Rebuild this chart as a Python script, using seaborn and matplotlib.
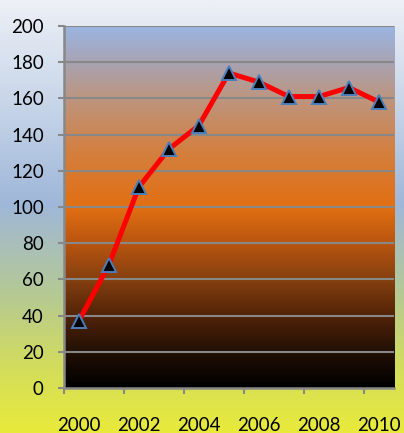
import numpy as np
import pandas as pd
import matplotlib
matplotlib.use("Agg")
import matplotlib.pyplot as plt
from matplotlib.colors import LinearSegmentedColormap
import seaborn as sns

years = [2000, 2001, 2002, 2003, 2004, 2005, 2006, 2007, 2008, 2009, 2010]
values = [37, 68, 111, 132, 145, 174, 169, 161, 161, 166, 158]
label_years = [2000, 2002, 2004, 2006, 2008, 2010]
y_ticks = [0, 20, 40, 60, 80, 100, 120, 140, 160, 180, 200]

sns.set_theme(style="white")
plt.rcParams["font.family"] = ["Lato", "DejaVu Sans"]

fig = plt.figure(figsize=(4.04, 4.33), dpi=100)

# figure background gradient (top -> bottom)
bg = fig.add_axes([0, 0, 1, 1], zorder=-10)
fig_cmap = LinearSegmentedColormap.from_list(
    "figbg", [(0.0, "#edf0f6"), (0.25, "#c6d4e8"), (0.47, "#9fb7d9"),
              (0.68, "#b5c994"), (0.85, "#d3dd5c"), (1.0, "#e8ea3a")])
bg.imshow(np.linspace(0, 1, 256).reshape(-1, 1), cmap=fig_cmap, aspect="auto",
          extent=[0, 1, 0, 1])
bg.set_axis_off()

ax = fig.add_axes([0.158, 0.104, 0.817, 0.836])
ax.patch.set_alpha(0)

# plot area gradient (top -> bottom)
ax_cmap = LinearSegmentedColormap.from_list(
    "axbg", [(0.0, "#9bb5e2"), (0.1, "#a8a3b2"), (0.2, "#bd957f"),
             (0.35, "#d47f3e"), (0.5, "#e26f12"), (0.6, "#b95510"),
             (0.7, "#85400f"), (0.8, "#522308"), (0.9, "#221005"),
             (1.0, "#000000")])
ax.imshow(np.linspace(0, 1, 256).reshape(-1, 1), cmap=ax_cmap, aspect="auto",
          extent=[0, 1, 0, 1], transform=ax.transAxes, zorder=0)

df = pd.DataFrame({"year": years, "value": values})
sns.lineplot(data=df, x="year", y="value", ax=ax, color="#ff0000", linewidth=3.6,
             marker="^", markersize=10, markerfacecolor="black",
             markeredgecolor="#4a7ebb", markeredgewidth=1.4, zorder=5)

ax.set_xlim(1999.5, 2010.5)
ax.set_ylim(0, 200)
ax.set_yticks(y_ticks)
ax.set_yticklabels([str(v) for v in y_ticks])
for v in y_ticks[1:]:
    ax.axhline(v, color="#888888", linewidth=1.5, zorder=2)

# tick marks at category boundaries, labels at category centres
ax.set_xticks([y - 0.5 for y in label_years])
ax.set_xticklabels([])
ax.set_xticks(label_years, minor=True)
ax.set_xticklabels([str(y) for y in label_years], minor=True)
ax.tick_params(axis="x", which="major", length=4.5, width=1.5, color="#888888",
               direction="out", bottom=True)
ax.tick_params(axis="x", which="minor", length=0, pad=21, labelsize=13.5,
               labelcolor="black")
ax.tick_params(axis="y", length=4.5, width=1.5, color="#888888", direction="out",
               left=True, pad=10, labelsize=13.5, labelcolor="black")

for side in ["top", "right"]:
    ax.spines[side].set_visible(False)
for side in ["left", "bottom"]:
    ax.spines[side].set_color("#888888")
    ax.spines[side].set_linewidth(1.8)
    ax.spines[side].set_zorder(3)

ax.set_xlabel("")
ax.set_ylabel("")
ax.grid(False)

fig.savefig("out.png", dpi=100)
